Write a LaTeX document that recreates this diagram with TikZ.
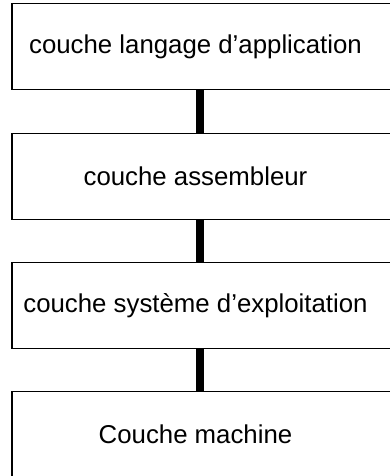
\documentclass[tikz,border=0pt]{standalone}
\usepackage{fontspec}
\setmainfont{Liberation Sans}
\begin{document}
\begin{tikzpicture}[x=1pt,y=1pt,
  layer/.style={draw=black, line width=1.4pt, minimum width=380pt, minimum height=86pt, inner sep=0pt, font=\fontsize{25.8}{30}\selectfont},
  link/.style={line width=8pt, black}]
\useasboundingbox (0,0) rectangle (390,476);
\begin{scope}
\clip (0,0) rectangle (390,476);
\node[layer] (app) at (202,429.5) {\hspace*{-13pt}couche langage d’application};
\node[layer] (asm) at (202,299.5) {\hspace*{-13pt}couche assembleur};
\node[layer] (os) at (202,170.5) {\hspace*{-13pt}couche système d’exploitation};
\node[layer] (mach) at (202,41.5) {\hspace*{-13pt}Couche machine};
\draw[link] (app.south -| 200,0) -- (asm.north -| 200,0);
\draw[link] (asm.south -| 200,0) -- (os.north -| 200,0);
\draw[link] (os.south -| 200,0) -- (mach.north -| 200,0);
\end{scope}
\end{tikzpicture}
\end{document}
